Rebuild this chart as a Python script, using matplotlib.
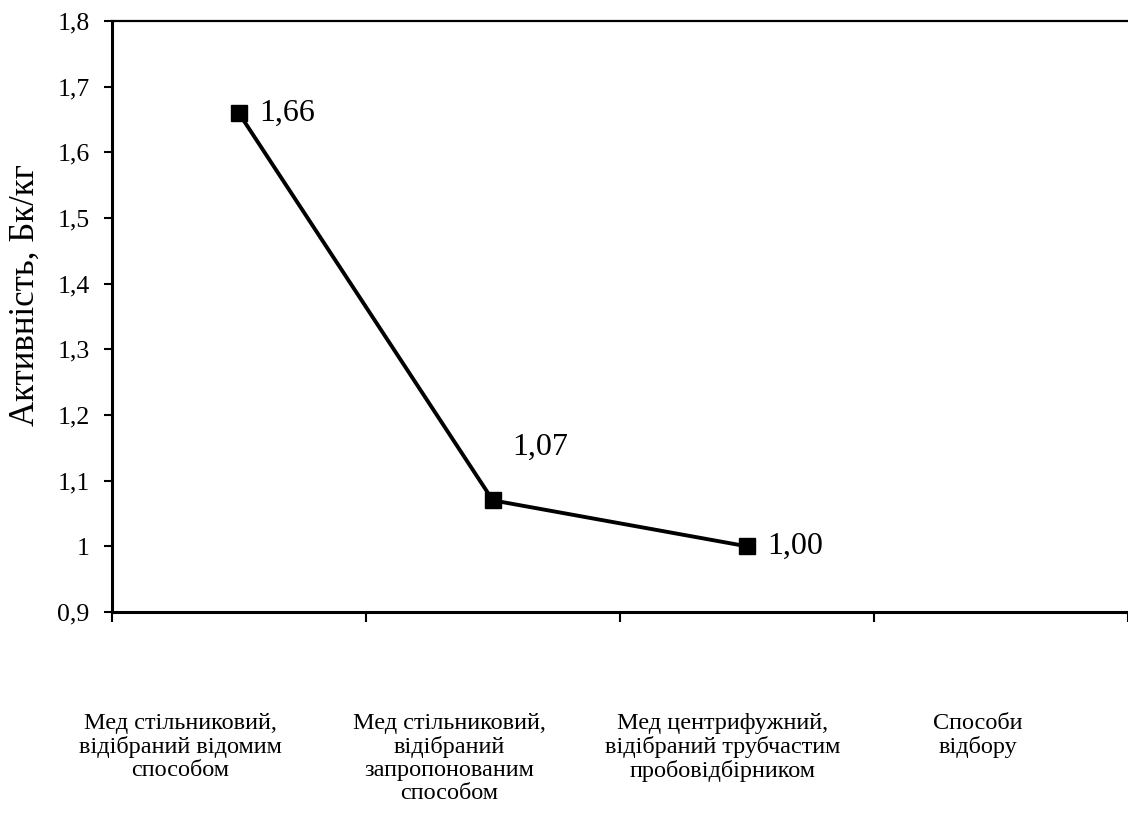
import matplotlib
matplotlib.use("Agg")
import matplotlib.pyplot as plt
from matplotlib.ticker import FuncFormatter, MultipleLocator
from matplotlib.transforms import blended_transform_factory

plt.rcParams['font.family'] = ['Liberation Serif', 'DejaVu Serif']

# Data
categories = [
    "Мед стільниковий,\nвідібраний відомим\nспособом",
    "Мед стільниковий,\nвідібраний\nзапропонованим\nспособом",
    "Мед центрифужний,\nвідібраний трубчастим\nпробовідбірником",
    "Способи\nвідбору",
]
activity = [1.66, 1.07, 1.00]
value_labels = ["1,66", "1,07", "1,00"]

# Layout helpers
label_offsets = [(15, 0), (14, 38), (15, 0)]   # points, relative to each marker
category_label_x = [0.27, 1.33, 2.405, 3.41]   # x positions of the caption blocks

fig = plt.figure(figsize=(11.28, 8.14), dpi=100)
ax = fig.add_axes([0.099, 0.2482, 0.901, 0.7260])

x_pos = [i + 0.5 for i in range(len(activity))]
ax.plot(x_pos, activity, color='black', lw=2.8, marker='s', ms=11,
        markerfacecolor='black', markeredgecolor='black', solid_joinstyle='miter')

for x, y, txt, off in zip(x_pos, activity, value_labels, label_offsets):
    ax.annotate(txt, (x, y), xytext=off, textcoords='offset points',
                ha='left', va='center', fontsize=23)

ax.set_xlim(0, 4)
ax.set_ylim(0.9, 1.8)
ax.yaxis.set_major_locator(MultipleLocator(0.1))
ax.yaxis.set_major_formatter(FuncFormatter(lambda v, p: f"{round(v, 1):g}".replace('.', ',')))
ax.set_xticks([0, 1, 2, 3, 4])
ax.set_xticklabels([])

ax.tick_params(axis='y', direction='out', length=6, width=1.5, pad=10, labelsize=18.5)
ax.tick_params(axis='x', direction='out', length=7, width=1.5)

for side in ('left', 'bottom'):
    ax.spines[side].set_linewidth(2.2)
ax.spines['top'].set_linewidth(1.6)
ax.spines['right'].set_visible(False)

ax.set_ylabel("Активність, Бк/кг", fontsize=25)
ax.yaxis.label.set_va('center')
ax.yaxis.set_label_coords(-0.085, 0.536)

trans = blended_transform_factory(ax.transData, ax.transAxes)
for xc, cat in zip(category_label_x, categories):
    ax.text(xc, -0.171, cat, transform=trans, ha='center', va='top',
            fontsize=17.5, linespacing=1.12)

fig.savefig("out.png", dpi=100)
